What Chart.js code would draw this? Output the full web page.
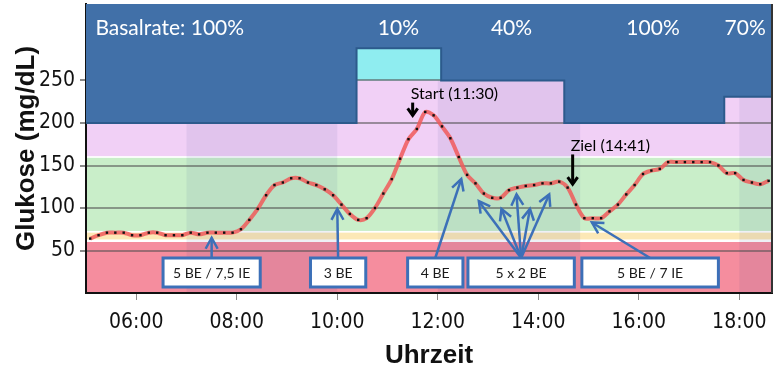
<!DOCTYPE html>
<html>
<head>
<meta charset="utf-8">
<script src="https://cdn.jsdelivr.net/npm/chart.js@4.4.1/dist/chart.umd.min.js"></script>
<style>
  html, body { margin: 0; padding: 0; background: #fff; }
</style>
</head>
<body>
<canvas id="glukose" width="776" height="371"></canvas>
<script>
// Messwerte alle 10 Minuten
const zeiten = [
  '05:05', '05:15', '05:25', '05:35', '05:45', '05:55',
  '06:05', '06:15', '06:25', '06:35', '06:45', '06:55',
  '07:05', '07:15', '07:25', '07:35', '07:45', '07:55',
  '08:05', '08:15', '08:25', '08:35', '08:45', '08:55',
  '09:05', '09:15', '09:25', '09:35', '09:45', '09:55',
  '10:05', '10:15', '10:25', '10:35', '10:45', '10:55',
  '11:05', '11:15', '11:25', '11:35', '11:45', '11:55',
  '12:05', '12:15', '12:25', '12:35', '12:45', '12:55',
  '13:05', '13:15', '13:25', '13:35', '13:45', '13:55',
  '14:05', '14:15', '14:25', '14:35', '14:45', '14:55',
  '15:05', '15:15', '15:25', '15:35', '15:45', '15:55',
  '16:05', '16:15', '16:25', '16:35', '16:45', '16:55',
  '17:05', '17:15', '17:25', '17:35', '17:45', '17:55',
  '18:05', '18:15', '18:25', '18:35'
];
const glukose = [
  64, 68, 71, 71, 71, 68,
  68, 71, 71, 68, 68, 68,
  71, 69, 71, 71, 71, 71,
  75, 86, 99, 115, 127, 130,
  135, 135, 130, 127, 122, 115,
  104, 93, 86, 88, 100, 117,
  134, 158, 181, 193, 213, 209,
  196, 182, 160, 139, 129, 117,
  112, 112, 121, 124, 126, 127,
  129, 129, 131, 124, 104, 88,
  88, 88, 96, 104, 116, 127,
  140, 144, 146, 154, 154, 154,
  154, 154, 154, 150, 141, 141,
  133, 130, 128, 132
];

// Achsen
const xTickWerte = [6, 8, 10, 12, 14, 16, 18];
const xTickTexte = ['06:00', '08:00', '10:00', '12:00', '14:00', '16:00', '18:00'];
const yTickWerte = [50, 100, 150, 200, 250];
const xVon = '05:00';
const xBis = '18:39';
const yMax = 340;

// Zielbereiche (mg/dL)
const bereichVon = [0, 63, 73, 161];
const bereichBis = [60, 71, 159, 340];
const bereichFarben = ['#f58d9e', '#fce8b6', '#c9eec9', '#f1d0f6'];

// Zeitfenster der Mahlzeiten (dunkler hinterlegt)
const fensterVon = ['07:00', '12:00', '18:00'];
const fensterBis = ['10:00', '14:50', '18:39'];

// Basalrate (Stufen, von oben gefuellt)
const basalZeiten = ['05:00', '10:23', '12:04', '14:31', '17:42', '18:39'];
const basalNiveau = [200, 288, 250, 200, 231, 231];
const basalTexte = ['Basalrate: 100%', '10%', '40%', '100%', '70%'];
const basalTextZeit = ['06:40', '11:13', '13:28', '16:17', '18:07'];
const tempVon = '10:23';
const tempBis = '12:04';
const tempUnten = 250;
const tempOben = 288;

// Mahlzeiten
const mahlTexte = ['5 BE / 7,5 IE', '3 BE', '4 BE', '5 x 2 BE', '5 BE / 7 IE'];
const mahlVon = ['06:32', '09:28', '11:24', '12:36', '14:52'];
const mahlBis = ['08:28', '10:34', '12:30', '14:43', '17:35'];
const mahlZiele = [
  [['07:30', 65]],
  [['10:00', 99]],
  [['12:28', 134]],
  [['12:49', 108], ['13:16', 99], ['13:34', 116], ['13:50', 99], ['14:13', 116]],
  [['15:04', 83]]
];

// Markierungen Start / Ziel
const markTexte = ['Start (11:30)', 'Ziel (14:41)'];
const markZeit = ['11:30', '14:41'];
const markVon = [224, 163];
const markBis = [209, 128];

function zuStunden(t) {
  const [h, m] = t.split(':').map(Number);
  return h + m / 60;
}

function pfeil(ctx, x0, y0, x1, y1, kopf, breite) {
  ctx.beginPath();
  ctx.moveTo(x0, y0);
  ctx.lineTo(x1, y1);
  ctx.stroke();
  const w = Math.atan2(y1 - y0, x1 - x0);
  const c = Math.cos(w), s = Math.sin(w);
  ctx.beginPath();
  ctx.moveTo(x1 - kopf * c + breite * s, y1 - kopf * s - breite * c);
  ctx.lineTo(x1, y1);
  ctx.lineTo(x1 - kopf * c - breite * s, y1 - kopf * s + breite * c);
  ctx.stroke();
}

const hintergrund = {
  id: 'hintergrund',
  beforeDraw(chart) {
    const { ctx, chartArea: a, scales: { x, y } } = chart;
    ctx.save();
    ctx.fillStyle = '#fff';
    ctx.fillRect(a.left, a.top, a.width, a.height);
    bereichVon.forEach((v, i) => {
      const oben = y.getPixelForValue(bereichBis[i]);
      const unten = y.getPixelForValue(v);
      ctx.fillStyle = bereichFarben[i];
      ctx.fillRect(a.left, oben, a.width, unten - oben);
    });
    ctx.fillStyle = 'rgba(40, 60, 140, 0.08)';
    fensterVon.forEach((t, i) => {
      const l = x.getPixelForValue(zuStunden(t));
      const r = x.getPixelForValue(zuStunden(fensterBis[i]));
      ctx.fillRect(l, a.top, r - l, a.height);
    });
    // temporaere Basalrate
    const l = x.getPixelForValue(zuStunden(tempVon));
    const r = x.getPixelForValue(zuStunden(tempBis));
    const o = y.getPixelForValue(tempOben);
    const u = y.getPixelForValue(tempUnten);
    ctx.fillStyle = '#8fedf0';
    ctx.fillRect(l, o, r - l, u - o);
    ctx.restore();
  },
  afterDatasetsDraw(chart) {
    const { ctx, chartArea: a, scales: { x, y } } = chart;
    ctx.save();
    // Basalraten-Texte
    ctx.fillStyle = '#fff';
    ctx.font = '21px Lato';
    ctx.textAlign = 'center';
    ctx.textBaseline = 'middle';
    basalTexte.forEach((t, i) => {
      ctx.fillText(t, x.getPixelForValue(zuStunden(basalTextZeit[i])), a.top + 24);
    });

    // Mahlzeiten: Pfeile und Kaesten
    ctx.strokeStyle = '#3c70b8';
    ctx.lineWidth = 2.5;
    const boxOben = a.bottom - 35;
    mahlTexte.forEach((t, i) => {
      const l = x.getPixelForValue(zuStunden(mahlVon[i]));
      const r = x.getPixelForValue(zuStunden(mahlBis[i]));
      const mitte = (l + r) / 2;
      mahlZiele[i].forEach(([zt, zw]) => {
        pfeil(ctx, mitte, boxOben, x.getPixelForValue(zuStunden(zt)), y.getPixelForValue(zw), 11, 6);
      });
    });
    ctx.font = '14px Lato';
    mahlTexte.forEach((t, i) => {
      const l = x.getPixelForValue(zuStunden(mahlVon[i]));
      const r = x.getPixelForValue(zuStunden(mahlBis[i]));
      ctx.fillStyle = '#fff';
      ctx.fillRect(l, boxOben, r - l, 29);
      ctx.lineWidth = 3;
      ctx.strokeRect(l, boxOben, r - l, 29);
      ctx.fillStyle = '#1a1a1a';
      ctx.fillText(t, (l + r) / 2, boxOben + 15);
    });

    // Start / Ziel
    ctx.strokeStyle = '#000';
    ctx.fillStyle = '#000';
    ctx.lineWidth = 3;
    ctx.font = '16px Lato';
    ctx.textAlign = 'left';
    markTexte.forEach((t, i) => {
      const px = x.getPixelForValue(zuStunden(markZeit[i]));
      const y0 = y.getPixelForValue(markVon[i]);
      pfeil(ctx, px, y0, px, y.getPixelForValue(markBis[i]), 7, 5);
      ctx.fillText(t, px - 2, y0 - 9);
    });

    // rechter Rahmen
    ctx.strokeStyle = '#333';
    ctx.lineWidth = 2;
    ctx.beginPath();
    ctx.moveTo(a.right, a.top);
    ctx.lineTo(a.right, a.bottom);
    ctx.stroke();
    ctx.restore();
  }
};

const tickFont = { family: "'Liberation Sans Narrow', 'DejaVu Sans Condensed', sans-serif", size: 21 };
const titelFont = { family: "'Liberation Sans', Arial, sans-serif", size: 26, weight: 'bold' };

new Chart(document.getElementById('glukose'), {
  type: 'line',
  data: {
    datasets: [
      {
        label: 'Glukose',
        data: zeiten.map((t, i) => ({ x: zuStunden(t), y: glukose[i] })),
        borderColor: 'rgba(240, 90, 90, 0.85)',
        borderWidth: 4,
        tension: 0.3,
        pointStyle: 'rect',
        pointRadius: 1.7,
        pointBackgroundColor: '#111',
        pointBorderWidth: 0,
        fill: false
      },
      {
        label: 'Basalrate',
        data: basalZeiten.map((t, i) => ({ x: zuStunden(t), y: basalNiveau[i] })),
        stepped: 'before',
        borderColor: '#2c5a8c',
        borderWidth: 2,
        backgroundColor: '#4170a8',
        pointRadius: 0,
        fill: 'end'
      }
    ]
  },
  options: {
    responsive: false,
    animation: false,
    layout: { padding: { top: 0, right: 4, left: 0, bottom: 0 } },
    plugins: { legend: { display: false }, tooltip: { enabled: false } },
    scales: {
      x: {
        type: 'linear',
        min: zuStunden(xVon),
        max: zuStunden(xBis),
        afterBuildTicks: s => { s.ticks = xTickWerte.map(v => ({ value: v })); },
        afterFit: s => { s.height = 78; s.paddingLeft = 0; s.paddingRight = 0; },
        ticks: {
          autoSkip: false,
          maxRotation: 0,
          padding: 10,
          color: '#111',
          font: tickFont,
          callback: v => xTickTexte[xTickWerte.indexOf(v)]
        },
        grid: { drawOnChartArea: false, tickLength: 7, tickColor: '#8a8a8a', lineWidth: 1 },
        border: { color: '#111', width: 2 },
        title: { display: true, text: 'Uhrzeit', color: '#111', font: titelFont, padding: { top: 0, bottom: 0 } }
      },
      y: {
        min: 0,
        max: yMax,
        afterBuildTicks: s => { s.ticks = yTickWerte.map(v => ({ value: v })); },
        afterFit: s => { s.width = 86; s.paddingTop = 0; s.paddingBottom = 0; },
        ticks: { padding: 5, color: '#111', font: tickFont },
        grid: { color: 'rgba(80, 80, 80, 0.55)', lineWidth: 2, tickLength: 6, tickColor: '#8a8a8a' },
        border: { color: '#111', width: 2 },
        title: { display: true, text: 'Glukose (mg/dL)', color: '#111', font: titelFont, padding: { top: 11 } }
      }
    }
  },
  plugins: [hintergrund]
});
</script>
</body>
</html>
